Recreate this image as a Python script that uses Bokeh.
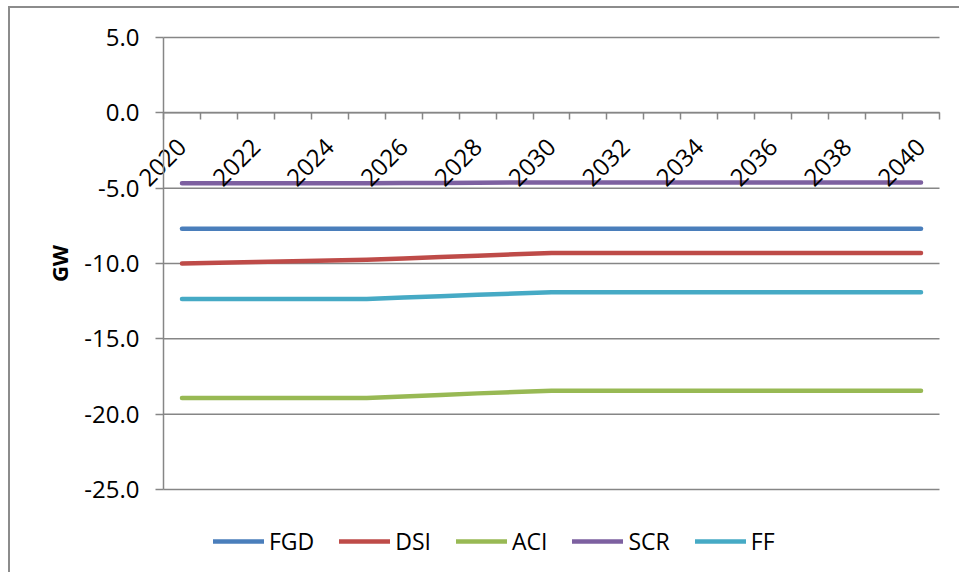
from bokeh.plotting import figure
from bokeh.models import Range1d, FixedTicker, NumeralTickFormatter, Legend, LegendItem, LinearAxis
from bokeh.embed import file_html
from bokeh.resources import INLINE
import math

# ---- data (GW) ----
years = [2020, 2021, 2022, 2023, 2024, 2025, 2026, 2027, 2028, 2029, 2030,
         2031, 2032, 2033, 2034, 2035, 2036, 2037, 2038, 2039, 2040]
fgd = [-7.70, -7.70, -7.70, -7.70, -7.70, -7.70, -7.70, -7.70, -7.70, -7.70, -7.70,
       -7.70, -7.70, -7.70, -7.70, -7.70, -7.70, -7.70, -7.70, -7.70, -7.70]
dsi = [-10.00, -9.95, -9.90, -9.85, -9.80, -9.75, -9.66, -9.57, -9.48, -9.39, -9.30,
       -9.30, -9.30, -9.30, -9.30, -9.30, -9.30, -9.30, -9.30, -9.30, -9.30]
aci = [-18.92, -18.92, -18.92, -18.92, -18.92, -18.92, -18.82, -18.72, -18.62, -18.53, -18.45,
       -18.45, -18.45, -18.45, -18.45, -18.45, -18.45, -18.45, -18.45, -18.45, -18.45]
scr = [-4.67, -4.67, -4.67, -4.67, -4.67, -4.67, -4.66, -4.65, -4.64, -4.63, -4.63,
       -4.63, -4.63, -4.63, -4.63, -4.63, -4.63, -4.63, -4.63, -4.62, -4.62]
ff = [-12.35, -12.35, -12.35, -12.35, -12.35, -12.35, -12.26, -12.17, -12.08, -11.99, -11.90,
      -11.90, -11.90, -11.90, -11.90, -11.90, -11.90, -11.90, -11.90, -11.90, -11.90]

series_names = ["FGD", "DSI", "ACI", "SCR", "FF"]
series_values = [fgd, dsi, aci, scr, ff]
series_colors = ["#4A7EBB", "#BE4B48", "#98B954", "#7D60A0", "#46AAC5"]

y_ticks = [-25, -20, -15, -10, -5, 0, 5]
x_label_years = [2020, 2022, 2024, 2026, 2028, 2030, 2032, 2034, 2036, 2038, 2040]

GRAY = "#868686"
FONT = "Open Sans"

# ---- layout (pixels inside the figure) ----
W, H = 951, 566
PL, PR, PT, PB = 153, 929, 29, 481     # plot area edges
x_lo, x_hi = years[0] - 0.5, years[-1] + 0.5
y_lo, y_hi = -25, 5
xpp = (x_hi - x_lo) / (PR - PL)        # data per pixel
ypp = (y_hi - y_lo) / (PB - PT)

p = figure(width=W, height=H,
           x_range=Range1d(x_lo - PL * xpp, x_hi + (W - PR) * xpp),
           y_range=Range1d(y_lo - (H - PB) * ypp, y_hi + PT * ypp),
           x_axis_location=None, y_axis_location=None,
           output_backend="svg", toolbar_location=None,
           min_border=0)
p.styles = {"margin-left": "8px", "margin-top": "6px",
            "border-top": "2px solid #8c8c8c", "border-left": "2px solid #8c8c8c"}
p.outline_line_color = None
p.background_fill_color = "white"
p.border_fill_color = "white"
p.xgrid.visible = False
p.ygrid.visible = False

# horizontal gridlines across the plot area
p.segment(x0=[x_lo] * len(y_ticks), y0=y_ticks, x1=[x_hi] * len(y_ticks), y1=y_ticks,
          line_color=GRAY, line_width=1.5)

# y axis
ya = LinearAxis(fixed_location=x_lo, bounds=(y_lo, y_hi))
ya.ticker = FixedTicker(ticks=y_ticks)
ya.formatter = NumeralTickFormatter(format="0.0")
ya.axis_line_color = GRAY
ya.axis_line_width = 1.5
ya.major_tick_line_color = GRAY
ya.major_tick_line_width = 1.5
ya.major_tick_out = 8
ya.major_tick_in = 0
ya.minor_tick_line_color = None
ya.major_label_standoff = 16
ya.major_label_text_font = FONT
ya.major_label_text_font_size = "24px"
ya.major_label_text_color = "black"
ya.axis_label = "GW"
ya.axis_label_text_font = FONT
ya.axis_label_text_font_size = "22px"
ya.axis_label_text_font_style = "bold"
ya.axis_label_text_color = "black"
ya.axis_label_standoff = 7
p.add_layout(ya, "left")

# x axis crossing at 0, ticks between categories
xa = LinearAxis(fixed_location=0, bounds=(x_lo, x_hi))
minor_positions = [y - 0.5 for y in years] + [years[-1] + 0.5]
xa.ticker = FixedTicker(ticks=x_label_years, minor_ticks=minor_positions)
xa.axis_line_color = GRAY
xa.axis_line_width = 1.5
xa.major_tick_out = 0
xa.major_tick_in = 0
xa.major_tick_line_color = None
xa.minor_tick_out = 7
xa.minor_tick_in = 0
xa.minor_tick_line_color = GRAY
xa.minor_tick_line_width = 1.5
xa.major_label_orientation = math.pi / 4
xa.major_label_standoff = 23
xa.major_label_text_font = FONT
xa.major_label_text_font_size = "24px"
xa.major_label_text_color = "black"
p.add_layout(xa, "below")

items = []
for name, vals, col in zip(series_names, series_values, series_colors):
    r = p.line(years, vals, line_color=col, line_width=4.5, line_cap="round", line_join="round")
    items.append(LegendItem(label=name, renderers=[r]))

legend = Legend(items=items, orientation="horizontal", location=(203, 17),
                padding=0, margin=0, spacing=25, glyph_width=51, glyph_height=20,
                label_standoff=5, label_text_font=FONT, label_text_font_size="23px",
                label_text_color="black", background_fill_alpha=0,
                border_line_color=None)
p.add_layout(legend, "center")

open("out.html", "w").write(file_html(p, INLINE))
